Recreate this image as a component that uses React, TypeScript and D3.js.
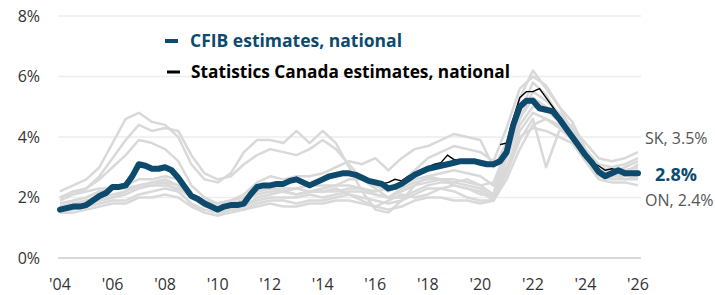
import { useEffect, useRef } from "react";
import * as d3 from "d3";

// quarterly national series, 2004Q1 .. 2026Q1
const cfibNational = [
  1.6, 1.65, 1.7, 1.7, 1.75, 1.9, 2.05, 2.15, 2.35, 2.35, 2.4, 2.7,
  3.1, 3.05, 2.95, 2.95, 3.0, 2.9, 2.65, 2.35, 2.05, 1.95, 1.8, 1.7,
  1.6, 1.7, 1.75, 1.75, 1.8, 2.1, 2.35, 2.4, 2.4, 2.45, 2.45, 2.55,
  2.6, 2.5, 2.4, 2.5, 2.6, 2.7, 2.75, 2.8, 2.8, 2.75, 2.65, 2.55,
  2.5, 2.45, 2.3, 2.35, 2.45, 2.6, 2.75, 2.85, 2.95, 3.0, 3.05, 3.1,
  3.15, 3.2, 3.2, 3.2, 3.15, 3.1, 3.1, 3.2, 3.5, 4.4, 5.0, 5.2,
  5.2, 4.95, 4.9, 4.85, 4.6, 4.3, 4.0, 3.7, 3.4, 3.15, 2.85, 2.7,
  2.8, 2.9, 2.8, 2.8, 2.8,
];

// Statistics Canada, 2015Q1 .. 2025Q2 (null = no data)
const statcanStart = 2015;
const statcanNational = [
  2.85, 2.75, 2.6, 2.55, 2.5, 2.45, 2.5, 2.6, 2.55, 2.7, 2.8, 2.9,
  3.0, 3.1, 3.15, 3.4, 3.25, 3.25, 3.2, 3.2, 3.2, null, null, 3.75,
  3.8, 4.6, 5.3, 5.5, 5.5, 5.6, 5.3, 5.0, 4.7, 4.4, 4.0, 3.65,
  3.3, 3.15, 3.05, 2.9, 2.95, 2.9,
];

// provinces, half-yearly 2004H1 .. 2026H1
const provinces = ["AB", "SK", "BC", "QC", "ON", "MB", "NB", "NS", "PE", "NL"];
const provinceValues = [
  [2.2, 2.4, 2.6, 3.0, 3.8, 4.6, 4.8, 4.5, 4.4, 4.0, 3.1, 2.6, 2.5, 2.8, 3.5, 3.9, 3.9, 3.8, 4.2, 3.8, 4.2, 3.8, 3.0, 2.2, 1.6, 1.5, 1.9, 2.4, 2.7, 2.6, 2.4, 2.3, 2.1, 2.1, 3.8, 4.6, 5.5, 5.2, 4.8, 4.3, 3.6, 3.1, 3.0, 3.1, 3.3],
  [2.0, 2.2, 2.3, 2.7, 3.3, 3.9, 4.4, 4.2, 4.3, 4.2, 3.4, 2.8, 2.6, 2.7, 3.1, 3.4, 3.6, 3.5, 3.4, 3.6, 3.9, 3.6, 3.1, 2.6, 2.3, 2.0, 2.3, 2.5, 2.6, 2.6, 2.5, 2.6, 2.4, 2.5, 3.6, 4.8, 5.8, 5.4, 4.7, 4.3, 3.8, 3.3, 3.2, 3.3, 3.5],
  [1.9, 2.1, 2.3, 2.6, 3.0, 3.4, 3.9, 3.8, 3.6, 3.2, 2.4, 2.0, 1.8, 1.9, 2.1, 2.5, 2.7, 2.6, 2.7, 2.7, 2.8, 3.0, 3.2, 3.1, 3.3, 2.9, 3.3, 3.6, 3.7, 3.9, 4.1, 4.0, 3.9, 3.0, 3.8, 5.3, 6.2, 5.6, 5.0, 4.5, 3.6, 3.0, 2.9, 2.9, 3.0],
  [1.7, 1.8, 1.8, 1.9, 2.0, 2.1, 2.3, 2.4, 2.4, 2.3, 2.0, 1.8, 1.7, 1.8, 1.9, 2.1, 2.2, 2.2, 2.1, 2.2, 2.2, 2.2, 2.3, 2.3, 2.2, 2.3, 2.5, 2.9, 3.3, 3.5, 3.7, 3.6, 3.5, 3.2, 4.3, 5.6, 6.0, 5.7, 5.0, 4.2, 3.4, 2.9, 2.7, 2.8, 3.1],
  [1.7, 1.8, 1.9, 2.0, 2.1, 2.2, 2.4, 2.5, 2.5, 2.2, 1.8, 1.5, 1.4, 1.6, 1.7, 2.0, 2.1, 2.2, 2.1, 2.2, 2.3, 2.4, 2.6, 2.6, 2.4, 2.2, 2.4, 2.6, 2.7, 2.8, 2.9, 2.8, 2.7, 2.4, 3.0, 4.0, 4.3, 4.2, 4.0, 3.8, 3.2, 2.6, 2.5, 2.5, 2.4],
  [1.8, 1.9, 2.0, 2.2, 2.3, 2.4, 2.6, 2.6, 2.7, 2.6, 2.1, 1.9, 1.8, 1.9, 2.0, 2.2, 2.3, 2.3, 2.3, 2.4, 2.4, 2.4, 2.4, 2.3, 2.1, 2.0, 2.0, 2.2, 2.4, 2.5, 2.5, 2.4, 2.3, 2.0, 3.3, 4.4, 5.0, 4.9, 4.5, 4.1, 3.4, 2.9, 2.8, 3.0, 3.2],
  [1.5, 1.6, 1.7, 1.8, 1.9, 1.9, 2.1, 2.2, 2.3, 2.2, 1.8, 1.6, 1.5, 1.6, 1.6, 1.8, 1.9, 1.9, 1.8, 1.9, 1.9, 2.0, 2.1, 2.0, 1.9, 1.8, 1.9, 2.1, 2.3, 2.3, 2.4, 2.3, 2.2, 1.9, 3.0, 4.2, 4.8, 4.6, 4.4, 4.0, 3.3, 2.8, 2.7, 2.8, 2.9],
  [1.6, 1.7, 1.8, 1.9, 2.0, 2.2, 2.4, 2.4, 2.5, 2.4, 2.0, 1.7, 1.6, 1.7, 1.7, 1.9, 2.0, 2.0, 2.0, 2.1, 2.0, 2.1, 2.2, 2.2, 2.1, 2.0, 2.2, 2.4, 2.5, 2.6, 2.6, 2.5, 2.4, 2.1, 3.4, 4.6, 5.3, 5.0, 4.6, 4.1, 3.4, 2.8, 2.7, 2.7, 2.8],
  [1.5, 1.5, 1.6, 1.7, 1.8, 1.8, 2.0, 2.0, 2.1, 2.0, 1.7, 1.5, 1.4, 1.5, 1.6, 1.7, 1.8, 1.7, 1.7, 1.8, 1.8, 1.9, 1.9, 1.8, 1.7, 1.9, 2.1, 2.0, 2.1, 2.3, 2.2, 2.0, 1.9, 1.9, 2.8, 3.9, 4.6, 3.0, 4.2, 4.4, 3.6, 2.9, 2.8, 2.6, 2.7],
  [2.0, 2.1, 2.2, 2.3, 2.3, 2.3, 2.4, 2.5, 2.6, 2.4, 2.0, 1.8, 1.7, 1.8, 1.9, 2.2, 2.3, 2.2, 2.3, 2.2, 2.2, 2.3, 2.1, 1.9, 1.7, 1.6, 1.7, 1.9, 2.0, 2.0, 1.9, 1.9, 1.8, 1.9, 2.6, 3.6, 4.4, 4.6, 4.3, 3.9, 3.2, 2.7, 2.6, 2.6, 2.6],
];

const yTicks = [0, 2, 4, 6, 8];
const xTicks = [2004, 2006, 2008, 2010, 2012, 2014, 2016, 2018, 2020, 2022, 2024, 2026];
const legendLabels = ["CFIB estimates, national", "Statistics Canada estimates, national"];
const endLabels = { top: "SK, 3.5%", national: "2.8%", bottom: "ON, 2.4%" };

const width = 715;
const height = 295;
const blue = "#0c4a6e";
const font = "'Open Sans', sans-serif";

export default function App() {
  const ref = useRef<HTMLDivElement | null>(null);

  useEffect(() => {
    if (!ref.current) return;
    document.body.style.margin = "0";
    d3.select(ref.current).selectAll("svg").remove();

    const svg = d3
      .select(ref.current)
      .append("svg")
      .attr("width", width)
      .attr("height", height)
      .style("font-family", font)
      .style("display", "block");

    const x = d3.scaleLinear([2004, 2026], [60, 638]);
    const y = d3.scaleLinear([0, 8], [258, 16]);

    // gridlines
    svg
      .selectAll(".grid")
      .data(yTicks)
      .enter()
      .append("line")
      .attr("x1", 58)
      .attr("x2", 641)
      .attr("y1", (d) => y(d))
      .attr("y2", (d) => y(d))
      .attr("stroke", (d) => (d === 0 ? "#d9d9d9" : "#ededed"))
      .attr("stroke-width", (d) => (d === 0 ? 2 : 1.5));

    // y labels
    svg
      .selectAll(".ylab")
      .data(yTicks)
      .enter()
      .append("text")
      .attr("x", 40)
      .attr("y", (d) => y(d))
      .attr("dy", "0.35em")
      .attr("text-anchor", "end")
      .attr("font-size", 16)
      .attr("fill", "#333")
      .text((d) => `${d}%`);

    // x labels
    svg
      .selectAll(".xlab")
      .data(xTicks)
      .enter()
      .append("text")
      .attr("x", (d) => x(d))
      .attr("y", 290)
      .attr("text-anchor", "middle")
      .attr("font-size", 16)
      .attr("fill", "#333")
      .text((d) => `'${String(d).slice(2)}`);

    // provinces
    const halfYears = provinceValues[0].map((_, i) => 2004 + i * 0.5);
    const provLine = d3
      .line<number>()
      .x((_, i) => x(halfYears[i]))
      .y((d) => y(d));
    svg
      .selectAll(".prov")
      .data(provinceValues)
      .enter()
      .append("path")
      .attr("class", (_, i) => `prov ${provinces[i]}`)
      .attr("d", (d) => provLine(d))
      .attr("fill", "none")
      .attr("stroke", "#d9d9d9")
      .attr("stroke-width", 2.5)
      .attr("stroke-linejoin", "round");

    // statcan
    const scLine = d3
      .line<number | null>()
      .defined((d) => d != null)
      .x((_, i) => x(statcanStart + i * 0.25))
      .y((d) => y(d as number));
    svg
      .append("path")
      .attr("d", scLine(statcanNational))
      .attr("fill", "none")
      .attr("stroke", "#000")
      .attr("stroke-width", 1.4);

    // cfib
    const cfLine = d3
      .line<number>()
      .x((_, i) => x(2004 + i * 0.25))
      .y((d) => y(d));
    svg
      .append("path")
      .attr("d", cfLine(cfibNational))
      .attr("fill", "none")
      .attr("stroke", blue)
      .attr("stroke-width", 6)
      .attr("stroke-linejoin", "round")
      .attr("stroke-linecap", "round");

    // legend
    svg.append("line").attr("x1", 165).attr("x2", 178).attr("y1", 41).attr("y2", 41)
      .attr("stroke", blue).attr("stroke-width", 4);
    svg.append("text").attr("x", 190).attr("y", 47).attr("font-size", 17)
      .attr("font-weight", "bold").attr("fill", blue)
      .attr("textLength", 212).attr("lengthAdjust", "spacingAndGlyphs")
      .text(legendLabels[0]);
    svg.append("line").attr("x1", 167).attr("x2", 180).attr("y1", 72).attr("y2", 72)
      .attr("stroke", "#000").attr("stroke-width", 3);
    svg.append("text").attr("x", 191).attr("y", 78).attr("font-size", 17)
      .attr("font-weight", "bold").attr("fill", "#000")
      .attr("textLength", 319).attr("lengthAdjust", "spacingAndGlyphs")
      .text(legendLabels[1]);

    // end labels
    svg.append("text").attr("x", 645).attr("y", 138).attr("dy", "0.35em")
      .attr("font-size", 16).attr("fill", "#555").text(endLabels.top);
    svg.append("text").attr("x", 655).attr("y", 175).attr("dy", "0.35em")
      .attr("font-size", 18).attr("font-weight", "bold").attr("fill", blue).text(endLabels.national);
    svg.append("text").attr("x", 645).attr("y", 200).attr("dy", "0.35em")
      .attr("font-size", 16).attr("fill", "#555").text(endLabels.bottom);
  }, []);

  return <div ref={ref} />;
}
